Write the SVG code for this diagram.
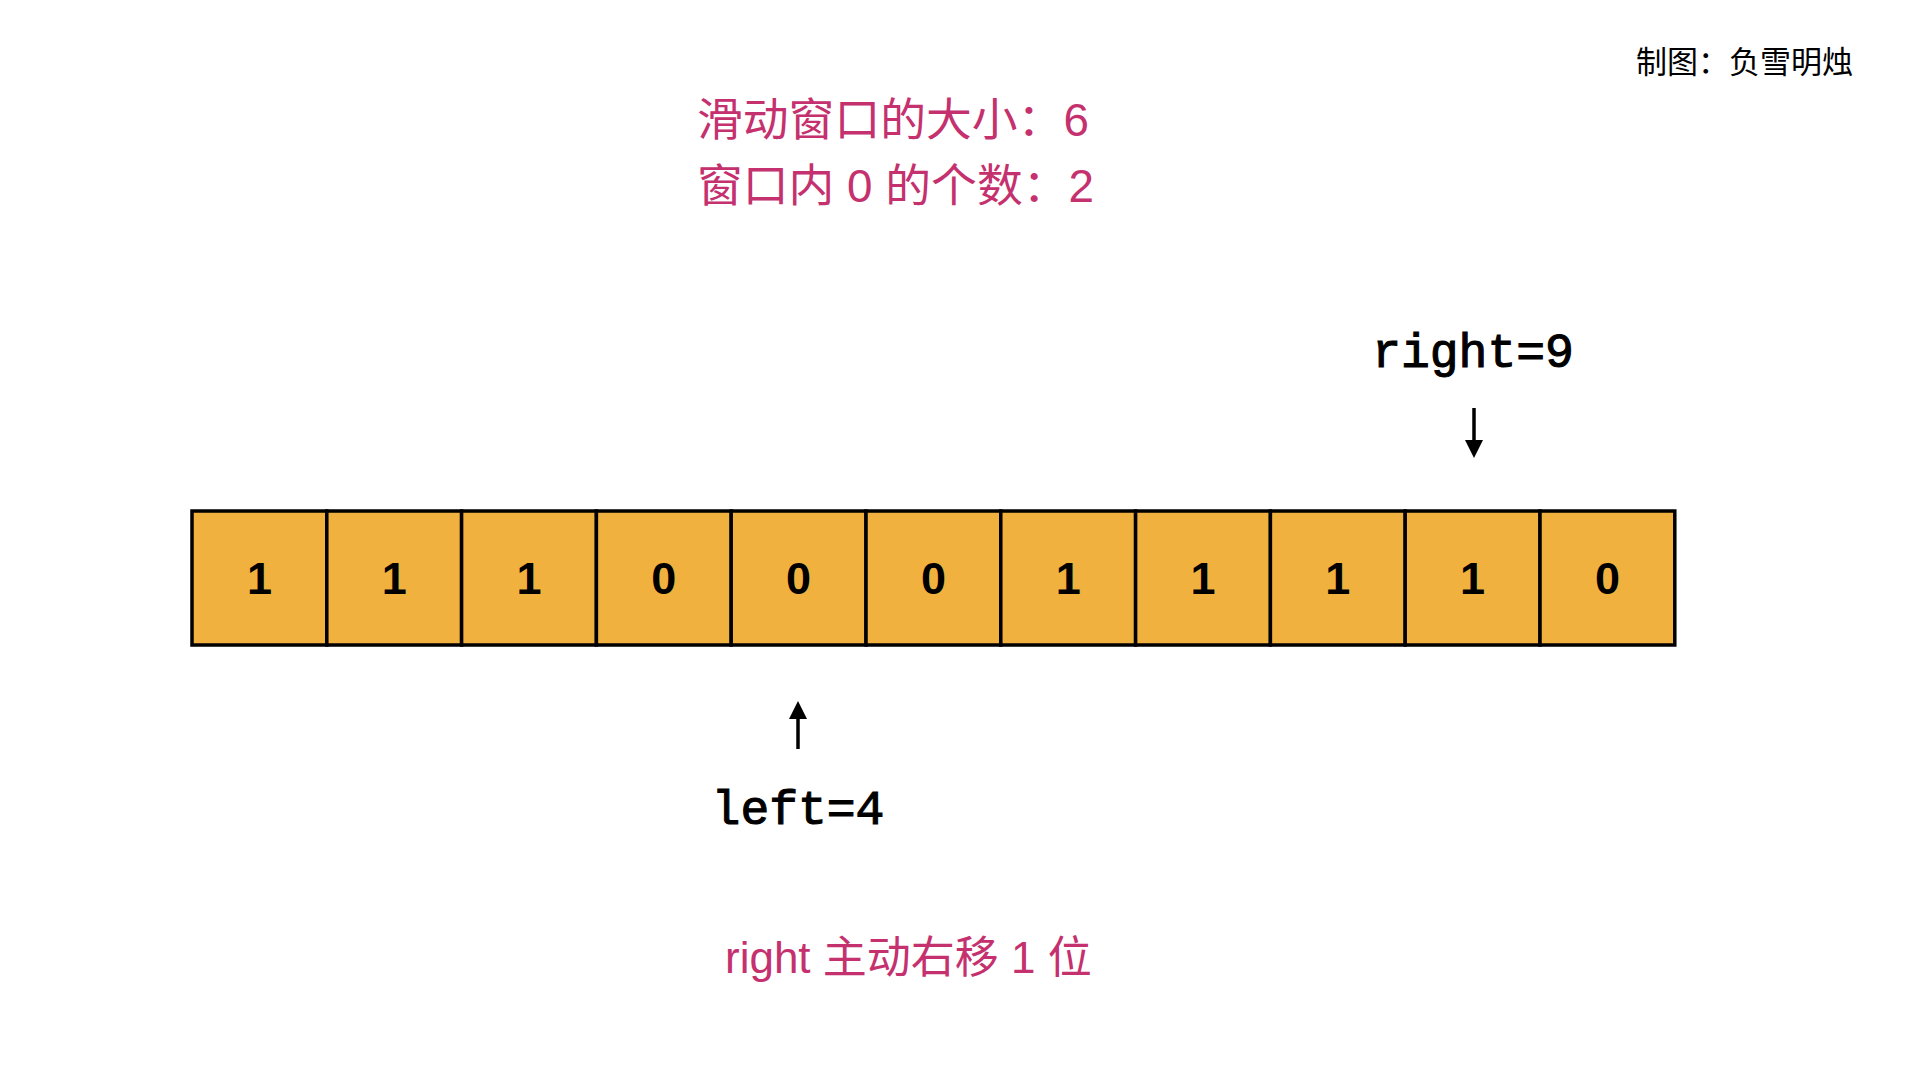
<svg xmlns="http://www.w3.org/2000/svg" width="1920" height="1080" viewBox="0 0 1920 1080">
<style>
.cell{fill:#F1B13F;stroke:#000;stroke-width:3.5}
.num{font-family:"Liberation Sans","Noto Sans",sans-serif;font-weight:bold;font-size:45px;fill:#000;text-anchor:middle}
.mono{font-family:"Liberation Mono","DejaVu Sans Mono",monospace;font-size:48px;fill:#000;stroke:#000;stroke-width:1.1;text-anchor:middle}
.pink{font-family:"Liberation Sans","Noto Sans CJK SC",sans-serif;font-size:45.8px;fill:#C4316E}
.cap{font-family:"Liberation Sans","Noto Sans CJK SC",sans-serif;font-size:44px;fill:#C4316E}
.credit{font-family:"Liberation Sans","Noto Sans CJK SC",sans-serif;font-size:31px;fill:#000;text-anchor:end}
.arr{stroke:#000;stroke-width:3.5;fill:none}
</style>
<rect width="1920" height="1080" fill="#fff"/>
<text class="credit" x="1853" y="73">制图：负雪明烛</text>
<g id="info">
<text class="pink" x="697" y="136">滑动窗口的大小：6</text>
<text class="pink" x="697" y="202">窗口内 0 的个数：2</text>
</g>
<g id="cells">
<g id="c0"><rect class="cell" x="192" y="511" width="134.8" height="134"/><text class="num" x="259.4" y="594">1</text></g>
<g id="c1"><rect class="cell" x="326.8" y="511" width="134.8" height="134"/><text class="num" x="394.2" y="594">1</text></g>
<g id="c2"><rect class="cell" x="461.6" y="511" width="134.8" height="134"/><text class="num" x="529" y="594">1</text></g>
<g id="c3"><rect class="cell" x="596.4" y="511" width="134.8" height="134"/><text class="num" x="663.8" y="594">0</text></g>
<g id="c4"><rect class="cell" x="731.2" y="511" width="134.8" height="134"/><text class="num" x="798.6" y="594">0</text></g>
<g id="c5"><rect class="cell" x="866" y="511" width="134.8" height="134"/><text class="num" x="933.4" y="594">0</text></g>
<g id="c6"><rect class="cell" x="1000.8" y="511" width="134.8" height="134"/><text class="num" x="1068.2" y="594">1</text></g>
<g id="c7"><rect class="cell" x="1135.6" y="511" width="134.8" height="134"/><text class="num" x="1203" y="594">1</text></g>
<g id="c8"><rect class="cell" x="1270.4" y="511" width="134.8" height="134"/><text class="num" x="1337.8" y="594">1</text></g>
<g id="c9"><rect class="cell" x="1405.2" y="511" width="134.8" height="134"/><text class="num" x="1472.6" y="594">1</text></g>
<g id="c10"><rect class="cell" x="1540" y="511" width="134.8" height="134"/><text class="num" x="1607.4" y="594">0</text></g>
</g>
<g id="right-label"><text class="mono" x="1473" y="367">right=9</text></g>
<g id="left-label"><text class="mono" x="798" y="824">left=4</text></g>
<g id="connectors">
<path class="arr" d="M1474,408 L1474,442"/>
<path d="M1465,440 L1483,440 L1474,458 Z" fill="#000"/>
<path class="arr" d="M798,749 L798,717"/>
<path d="M789,719 L807,719 L798,701 Z" fill="#000"/>
</g>
<g id="caption"><text class="cap" x="725" y="973">right 主动右移 1 位</text></g>
</svg>
